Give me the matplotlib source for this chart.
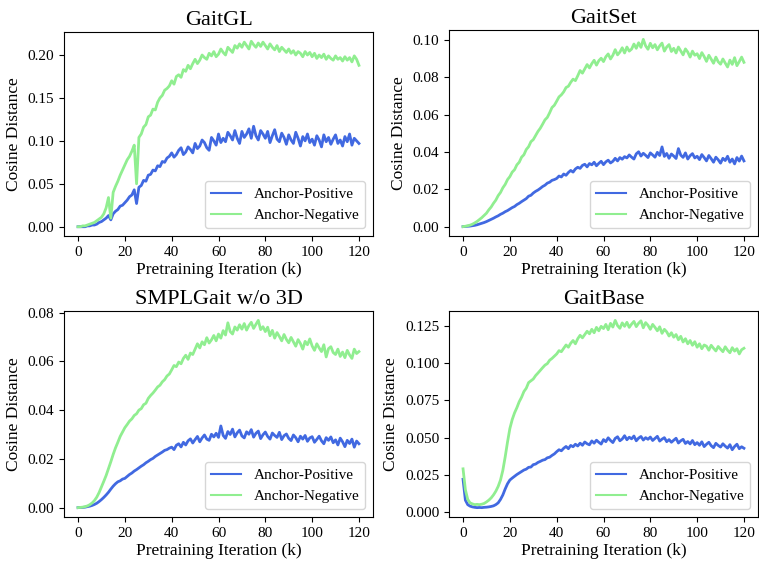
import matplotlib
matplotlib.use("Agg")
import matplotlib.pyplot as plt
from matplotlib.ticker import MultipleLocator, FormatStrFormatter
import numpy as np

plt.rcParams['font.family'] = ['Liberation Serif', 'DejaVu Serif']
plt.rcParams['mathtext.fontset'] = 'stix'

# pretraining iteration in k, one sample per 1k
iters = np.arange(0, 121)

titles = ['GaitGL', 'GaitSet', 'SMPLGait w/o 3D', 'GaitBase']
labels = ['Anchor-Positive', 'Anchor-Negative']
colors = ['royalblue', 'lightgreen']

gaitgl_pos = [
    0.000, 0.000, 0.000, 0.000, 0.001, 0.001, 0.002, 0.002, 0.003, 0.005,
    0.006, 0.008, 0.010, 0.013, 0.008, 0.015, 0.018, 0.020, 0.024, 0.025,
    0.028, 0.031, 0.035, 0.037, 0.043, 0.027, 0.046, 0.048, 0.054, 0.053,
    0.060, 0.061, 0.066, 0.065, 0.071, 0.070, 0.076, 0.075, 0.080, 0.082,
    0.086, 0.081, 0.084, 0.089, 0.092, 0.084, 0.087, 0.093, 0.090, 0.086,
    0.097, 0.091, 0.094, 0.101, 0.098, 0.092, 0.089, 0.104, 0.100, 0.095,
    0.108, 0.098, 0.103, 0.099, 0.110, 0.106, 0.101, 0.112, 0.103, 0.097,
    0.111, 0.104, 0.108, 0.114, 0.103, 0.117, 0.106, 0.101, 0.112, 0.108,
    0.103, 0.111, 0.098, 0.106, 0.113, 0.102, 0.099, 0.109, 0.104, 0.096,
    0.107, 0.101, 0.097, 0.110, 0.103, 0.094, 0.105, 0.100, 0.108, 0.098,
    0.102, 0.095, 0.106, 0.101, 0.093, 0.107, 0.099, 0.104, 0.096, 0.102,
    0.107, 0.097, 0.101, 0.094, 0.105, 0.099, 0.108, 0.095, 0.103, 0.100,
    0.097]
gaitgl_neg = [
    0.000, 0.000, 0.001, 0.001, 0.002, 0.003, 0.004, 0.005, 0.007, 0.009,
    0.011, 0.015, 0.022, 0.034, 0.010, 0.040, 0.047, 0.053, 0.060, 0.066,
    0.072, 0.078, 0.082, 0.088, 0.095, 0.050, 0.104, 0.108, 0.116, 0.119,
    0.128, 0.130, 0.137, 0.136, 0.145, 0.150, 0.153, 0.159, 0.161, 0.164,
    0.170, 0.166, 0.175, 0.177, 0.174, 0.183, 0.181, 0.188, 0.184, 0.190,
    0.195, 0.190, 0.194, 0.200, 0.197, 0.195, 0.202, 0.199, 0.204, 0.198,
    0.201, 0.207, 0.203, 0.200, 0.209, 0.206, 0.203, 0.211, 0.208, 0.213,
    0.209, 0.215, 0.211, 0.207, 0.216, 0.212, 0.209, 0.214, 0.210, 0.215,
    0.211, 0.207, 0.213, 0.209, 0.206, 0.211, 0.204, 0.209, 0.206, 0.203,
    0.207, 0.202, 0.205, 0.200, 0.204, 0.202, 0.198, 0.204, 0.200, 0.203,
    0.198, 0.202, 0.196, 0.200, 0.197, 0.201, 0.195, 0.199, 0.196, 0.194,
    0.199, 0.195, 0.197, 0.193, 0.198, 0.194, 0.197, 0.192, 0.199, 0.195,
    0.188]

gaitset_pos = [
    0.0000, 0.0001, 0.0002, 0.0003, 0.0005, 0.0007, 0.0010, 0.0014, 0.0018, 0.0022,
    0.0027, 0.0033, 0.0039, 0.0045, 0.0052, 0.0058, 0.0066, 0.0072, 0.0080, 0.0086,
    0.0094, 0.0102, 0.0108, 0.0118, 0.0125, 0.0134, 0.0142, 0.0150, 0.0163, 0.0168,
    0.0180, 0.0189, 0.0196, 0.0205, 0.0215, 0.0222, 0.0233, 0.0238, 0.0248, 0.0252,
    0.0258, 0.0271, 0.0266, 0.0282, 0.0275, 0.0290, 0.0301, 0.0292, 0.0309, 0.0318,
    0.0312, 0.0328, 0.0334, 0.0320, 0.0338, 0.0331, 0.0345, 0.0326, 0.0339, 0.0350,
    0.0332, 0.0347, 0.0356, 0.0341, 0.0350, 0.0366, 0.0352, 0.0370, 0.0361, 0.0375,
    0.0368, 0.0384, 0.0372, 0.0362, 0.0390, 0.0401, 0.0378, 0.0393, 0.0382, 0.0370,
    0.0395, 0.0384, 0.0372, 0.0398, 0.0381, 0.0427, 0.0376, 0.0392, 0.0366, 0.0389,
    0.0378, 0.0365, 0.0418, 0.0383, 0.0371, 0.0395, 0.0362, 0.0380, 0.0391, 0.0368,
    0.0377, 0.0359, 0.0386, 0.0370, 0.0352, 0.0381, 0.0364, 0.0345, 0.0372, 0.0358,
    0.0340, 0.0366, 0.0354, 0.0377, 0.0345, 0.0362, 0.0336, 0.0370, 0.0351, 0.0378,
    0.0352]
gaitset_neg = [
    0.0000, 0.0002, 0.0005, 0.0008, 0.0013, 0.0020, 0.0028, 0.0038, 0.0048, 0.0060,
    0.0072, 0.0090, 0.0105, 0.0125, 0.0142, 0.0166, 0.0183, 0.0208, 0.0226, 0.0252,
    0.0268, 0.0292, 0.0305, 0.0331, 0.0345, 0.0372, 0.0385, 0.0413, 0.0428, 0.0455,
    0.0466, 0.0488, 0.0510, 0.0527, 0.0549, 0.0572, 0.0585, 0.0610, 0.0638, 0.0650,
    0.0672, 0.0695, 0.0706, 0.0722, 0.0745, 0.0752, 0.0773, 0.0790, 0.0782, 0.0808,
    0.0836, 0.0822, 0.0845, 0.0868, 0.0850, 0.0873, 0.0891, 0.0865, 0.0889, 0.0902,
    0.0884, 0.0910, 0.0925, 0.0898, 0.0918, 0.0948, 0.0920, 0.0935, 0.0958, 0.0930,
    0.0962, 0.0940, 0.0951, 0.0978, 0.0955, 0.0985, 0.0960, 0.1003, 0.0968, 0.0950,
    0.0982, 0.0958, 0.0975, 0.0947, 0.0968, 0.0983, 0.0940, 0.0962, 0.0975, 0.0938,
    0.0955, 0.0930, 0.0962, 0.0941, 0.0920, 0.0952, 0.0935, 0.0908, 0.0940, 0.0918,
    0.0926, 0.0900, 0.0932, 0.0911, 0.0885, 0.0918, 0.0897, 0.0875, 0.0908, 0.0883,
    0.0870, 0.0898, 0.0876, 0.0855, 0.0892, 0.0869, 0.0905, 0.0862, 0.0884, 0.0908,
    0.0880]

smpl_pos = [
    0.0000, 0.0001, 0.0001, 0.0002, 0.0004, 0.0006, 0.0009, 0.0013, 0.0018, 0.0025,
    0.0033, 0.0042, 0.0052, 0.0063, 0.0076, 0.0088, 0.0098, 0.0106, 0.0110, 0.0117,
    0.0120, 0.0128, 0.0136, 0.0142, 0.0150, 0.0156, 0.0163, 0.0170, 0.0176, 0.0184,
    0.0190, 0.0197, 0.0202, 0.0210, 0.0216, 0.0222, 0.0228, 0.0235, 0.0238, 0.0244,
    0.0248, 0.0238, 0.0256, 0.0262, 0.0249, 0.0268, 0.0257, 0.0274, 0.0282, 0.0265,
    0.0279, 0.0292, 0.0270, 0.0286, 0.0298, 0.0281, 0.0276, 0.0301, 0.0290, 0.0305,
    0.0288, 0.0335, 0.0296, 0.0284, 0.0312, 0.0300, 0.0322, 0.0290, 0.0307, 0.0318,
    0.0294, 0.0286, 0.0311, 0.0301, 0.0320, 0.0289, 0.0305, 0.0314, 0.0283, 0.0299,
    0.0310, 0.0292, 0.0281, 0.0306, 0.0296, 0.0288, 0.0309, 0.0279, 0.0295, 0.0302,
    0.0284, 0.0275, 0.0298, 0.0287, 0.0270, 0.0293, 0.0281, 0.0296, 0.0272, 0.0286,
    0.0291, 0.0268, 0.0280, 0.0293, 0.0274, 0.0262, 0.0287, 0.0276, 0.0290, 0.0266,
    0.0278, 0.0257, 0.0285, 0.0270, 0.0250, 0.0276, 0.0263, 0.0281, 0.0248, 0.0273,
    0.0262]
smpl_neg = [
    0.0000, 0.0001, 0.0002, 0.0004, 0.0007, 0.0012, 0.0019, 0.0029, 0.0043, 0.0062,
    0.0085, 0.0108, 0.0132, 0.0160, 0.0188, 0.0218, 0.0245, 0.0268, 0.0292, 0.0310,
    0.0328, 0.0341, 0.0355, 0.0364, 0.0378, 0.0385, 0.0400, 0.0406, 0.0422, 0.0428,
    0.0448, 0.0460, 0.0470, 0.0482, 0.0495, 0.0502, 0.0516, 0.0525, 0.0540, 0.0548,
    0.0565, 0.0583, 0.0578, 0.0597, 0.0590, 0.0612, 0.0625, 0.0608, 0.0634, 0.0628,
    0.0650, 0.0672, 0.0655, 0.0680, 0.0668, 0.0697, 0.0675, 0.0688, 0.0706, 0.0684,
    0.0712, 0.0695, 0.0726, 0.0708, 0.0758, 0.0722, 0.0712, 0.0741, 0.0728, 0.0750,
    0.0732, 0.0755, 0.0728, 0.0747, 0.0760, 0.0735, 0.0752, 0.0768, 0.0730, 0.0742,
    0.0722, 0.0740, 0.0705, 0.0727, 0.0695, 0.0718, 0.0702, 0.0684, 0.0710, 0.0690,
    0.0676, 0.0698, 0.0680, 0.0662, 0.0689, 0.0673, 0.0650, 0.0682, 0.0668, 0.0692,
    0.0663, 0.0645, 0.0672, 0.0655, 0.0640, 0.0668, 0.0618, 0.0652, 0.0660, 0.0636,
    0.0628, 0.0650, 0.0620, 0.0638, 0.0615, 0.0645, 0.0626, 0.0612, 0.0650, 0.0632,
    0.0640]

gaitbase_pos = [
    0.0220, 0.0080, 0.0050, 0.0040, 0.0035, 0.0032, 0.0030, 0.0031, 0.0030, 0.0032,
    0.0033, 0.0035, 0.0038, 0.0042, 0.0050, 0.0062, 0.0085, 0.0115, 0.0155, 0.0190,
    0.0215, 0.0228, 0.0240, 0.0252, 0.0262, 0.0272, 0.0282, 0.0288, 0.0300, 0.0302,
    0.0318, 0.0322, 0.0333, 0.0340, 0.0348, 0.0352, 0.0364, 0.0368, 0.0380, 0.0390,
    0.0405, 0.0418, 0.0411, 0.0428, 0.0440, 0.0425, 0.0447, 0.0438, 0.0455, 0.0443,
    0.0462, 0.0448, 0.0470, 0.0458, 0.0451, 0.0477, 0.0462, 0.0482, 0.0468, 0.0456,
    0.0486, 0.0472, 0.0498, 0.0480, 0.0466, 0.0494, 0.0505, 0.0478, 0.0490, 0.0512,
    0.0485, 0.0502, 0.0491, 0.0510, 0.0478, 0.0496, 0.0507, 0.0483, 0.0499, 0.0488,
    0.0503, 0.0480, 0.0494, 0.0508, 0.0476, 0.0489, 0.0499, 0.0472, 0.0486, 0.0468,
    0.0482, 0.0495, 0.0463, 0.0478, 0.0488, 0.0460, 0.0473, 0.0457, 0.0480, 0.0452,
    0.0466, 0.0448, 0.0471, 0.0439, 0.0455, 0.0468, 0.0445, 0.0432, 0.0461, 0.0447,
    0.0436, 0.0458, 0.0442, 0.0429, 0.0452, 0.0418, 0.0440, 0.0455, 0.0425, 0.0438,
    0.0428]
gaitbase_neg = [
    0.0290, 0.0150, 0.0085, 0.0062, 0.0055, 0.0050, 0.0052, 0.0050, 0.0053, 0.0058,
    0.0068, 0.0080, 0.0095, 0.0115, 0.0140, 0.0172, 0.0215, 0.0280, 0.0370, 0.0470,
    0.0560, 0.0620, 0.0665, 0.0700, 0.0740, 0.0770, 0.0808, 0.0830, 0.0868, 0.0880,
    0.0892, 0.0915, 0.0932, 0.0950, 0.0968, 0.0985, 0.0995, 0.1018, 0.1030, 0.1045,
    0.1060, 0.1082, 0.1075, 0.1098, 0.1120, 0.1105, 0.1132, 0.1150, 0.1128, 0.1162,
    0.1185, 0.1168, 0.1190, 0.1212, 0.1195, 0.1225, 0.1202, 0.1238, 0.1215, 0.1245,
    0.1230, 0.1258, 0.1222, 0.1265, 0.1240, 0.1285, 0.1250, 0.1232, 0.1268, 0.1245,
    0.1272, 0.1238, 0.1260, 0.1278, 0.1243, 0.1266, 0.1282, 0.1235, 0.1270, 0.1252,
    0.1225, 0.1258, 0.1238, 0.1215, 0.1242, 0.1198, 0.1225, 0.1208, 0.1180, 0.1202,
    0.1172, 0.1190, 0.1155, 0.1178, 0.1140, 0.1162, 0.1128, 0.1150, 0.1118, 0.1142,
    0.1105, 0.1128, 0.1095, 0.1120, 0.1112, 0.1085, 0.1118, 0.1098, 0.1080, 0.1110,
    0.1092, 0.1075, 0.1108, 0.1085, 0.1068, 0.1102, 0.1079, 0.1095, 0.1060, 0.1088,
    0.1098]

series = [
    (gaitgl_pos, gaitgl_neg),
    (gaitset_pos, gaitset_neg),
    (smpl_pos, smpl_neg),
    (gaitbase_pos, gaitbase_neg),
]

W, H = 759, 562
fig = plt.figure(figsize=(W / 100, H / 100), dpi=100)

# axes boxes in pixels: left, top, right, bottom
boxes = [(64, 32, 373, 236), (449, 30, 758, 236),
         (64, 311, 373, 517), (449, 311, 758, 517)]

for i, (box, title, (pos, neg)) in enumerate(zip(boxes, titles, series)):
    l, t, r, b = box
    ax = fig.add_axes([l / W, 1 - b / H, (r - l) / W, (b - t) / H])
    ax.plot(iters, pos, color=colors[0], lw=2.0, label=labels[0])
    ax.plot(iters, neg, color=colors[1], lw=2.0, label=labels[1])
    ax.set_title(title, fontsize=16, pad=5)
    ax.set_xlabel('Pretraining Iteration (k)', fontsize=12.5, labelpad=2.5)
    ax.set_ylabel('Cosine Distance', fontsize=12.5, labelpad=4)
    ax.set_xticks([0, 20, 40, 60, 80, 100, 120])
    if i == 3:
        ax.yaxis.set_major_locator(MultipleLocator(0.025))
        ax.yaxis.set_major_formatter(FormatStrFormatter('%.3f'))
    ax.tick_params(labelsize=11)
    leg = ax.legend(loc='lower right', fontsize=11)
    for h in leg.get_lines():
        h.set_linewidth(1.5)

fig.savefig('out.png', dpi=100)
